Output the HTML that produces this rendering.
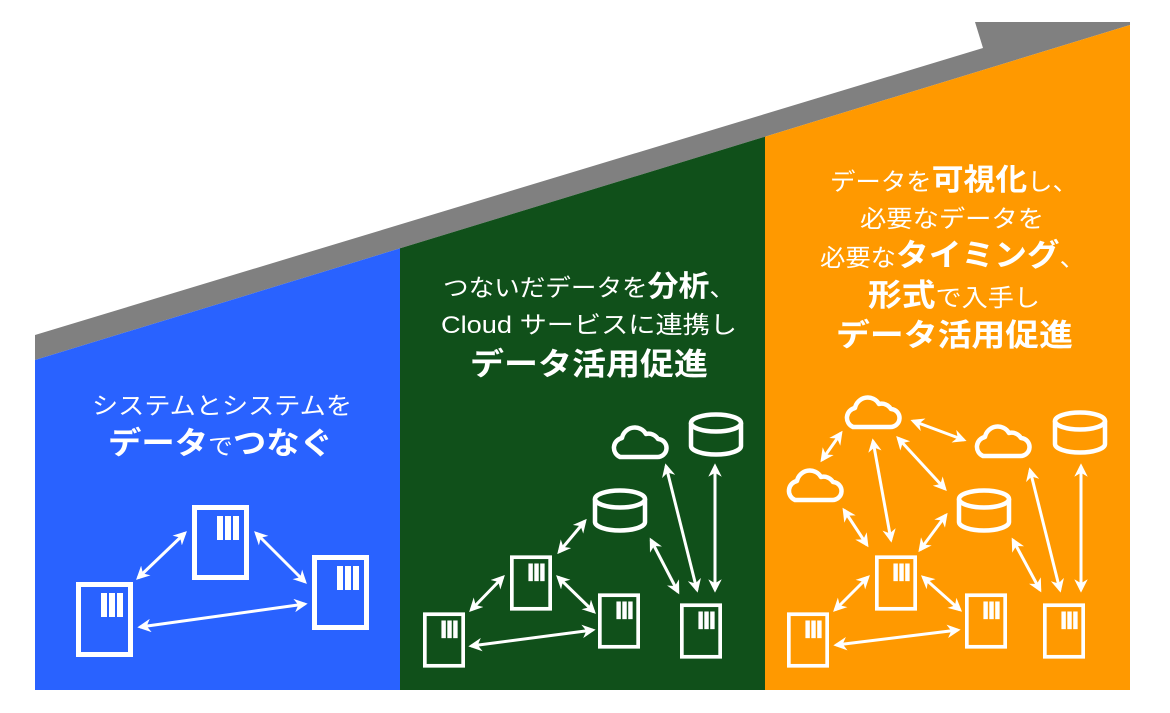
<!DOCTYPE html>
<html><head><meta charset="utf-8"><style>
html,body{margin:0;padding:0;background:#fff;}
svg{display:block}
text{font-family:"Liberation Sans","Noto Sans CJK JP",sans-serif;fill:#fff;}
</style></head><body>
<svg width="1170" height="713" viewBox="0 0 1170 713" xmlns="http://www.w3.org/2000/svg">
<defs>
<symbol id="srv" viewBox="0 0 57 75" overflow="visible">
<rect x="2.5" y="2.5" width="52" height="70" fill="none" stroke="#fff" stroke-width="5"/>
<rect x="25" y="11" width="6" height="24" fill="#fff"/>
<rect x="33" y="11" width="6" height="24" fill="#fff"/>
<rect x="41" y="11" width="6" height="24" fill="#fff"/>
</symbol>
<symbol id="db" viewBox="0 0 56 46" overflow="visible">
<g fill="none" stroke="#fff" stroke-width="4.5">
<ellipse cx="28" cy="11" rx="25" ry="8.5"/>
<path d="M3 11 V34 A25 8.5 0 0 0 53 34 V11"/>
</g>
</symbol>
<symbol id="cloud" viewBox="0 0 58 38" overflow="visible">
<path d="M10 35 H47 A9 9 0 0 0 48 17 A11 11 0 0 0 36 12 A13 13 0 0 0 12 16 A10 10 0 0 0 10 35 Z" fill="none" stroke="#fff" stroke-width="4.5" stroke-linejoin="round"/>
</symbol>
<marker id="ah" viewBox="0 0 10 10" refX="8" refY="5" markerWidth="4.5" markerHeight="4.5" orient="auto-start-reverse" markerUnits="strokeWidth">
<path d="M0 0 L10 5 L0 10 L3 5 Z" fill="#fff"/>
</marker>
</defs>

<polygon points="35,335 983,48 975,22 1130,22 1130,25 35,360" fill="#808080"/>
<clipPath id="cp"><polygon points="35,360 1130,25 1130,690 35,690"/></clipPath>
<g clip-path="url(#cp)">
<rect x="35" y="0" width="366" height="690" fill="#2962ff"/>
<rect x="400" y="0" width="366" height="690" fill="#10501a"/>
<rect x="765" y="0" width="365" height="690" fill="#ff9900"/>
</g>

<!-- Blue text -->
<text x="92" y="414" font-size="24" textLength="260" lengthAdjust="spacingAndGlyphs">システムとシステムを</text>
<text x="108" y="454" font-weight="bold" textLength="225" lengthAdjust="spacingAndGlyphs"><tspan font-size="31">データ</tspan><tspan font-size="23" font-weight="normal">で</tspan><tspan font-size="31">つなぐ</tspan></text>

<!-- Green text -->
<text x="443" y="296" font-size="24" textLength="292" lengthAdjust="spacingAndGlyphs">つないだデータを<tspan font-weight="bold" font-size="29">分析</tspan>、</text>
<text x="441" y="333" font-size="24" textLength="296" lengthAdjust="spacingAndGlyphs">Cloud サービスに連携し</text>
<text x="470" y="375" font-size="31" font-weight="bold" textLength="238" lengthAdjust="spacingAndGlyphs">データ活用促進</text>

<!-- Orange text -->
<text x="830" y="190" font-size="24" textLength="248" lengthAdjust="spacingAndGlyphs">データを<tspan font-weight="bold" font-size="30">可視化</tspan>し、</text>
<text x="860" y="227" font-size="24" textLength="184" lengthAdjust="spacingAndGlyphs">必要なデータを</text>
<text x="820" y="266" font-size="24" textLength="265" lengthAdjust="spacingAndGlyphs">必要な<tspan font-weight="bold" font-size="31">タイミング</tspan>、</text>
<text x="868" y="306" font-size="24" textLength="172" lengthAdjust="spacingAndGlyphs"><tspan font-weight="bold" font-size="31">形式</tspan>で入手し</text>
<text x="836" y="346" font-size="31" font-weight="bold" textLength="237" lengthAdjust="spacingAndGlyphs">データ活用促進</text>

<!-- Blue diagram -->
<use href="#srv" x="76" y="582" width="57" height="75"/>
<use href="#srv" x="192" y="505" width="57" height="75"/>
<use href="#srv" x="312" y="555" width="57" height="75"/>
<g stroke="#fff" stroke-width="3" marker-start="url(#ah)" marker-end="url(#ah)">
<line x1="138" y1="578" x2="185" y2="533"/>
<line x1="256" y1="533" x2="305" y2="582"/>
<line x1="140" y1="627" x2="305" y2="604"/>
</g>

<!-- Green diagram -->
<use href="#srv" x="423" y="612" width="42" height="56"/>
<use href="#srv" x="510" y="555" width="42" height="56"/>
<use href="#srv" x="598" y="593" width="42" height="56"/>
<use href="#srv" x="680" y="603" width="42" height="56"/>
<use href="#db" x="592" y="488" width="56" height="46"/>
<use href="#db" x="688" y="412" width="56" height="46"/>
<use href="#cloud" x="610" y="422" width="58" height="38"/>
<g stroke="#fff" stroke-width="3" marker-start="url(#ah)" marker-end="url(#ah)">
<line x1="471" y1="610" x2="503" y2="577"/>
<line x1="471" y1="646" x2="593" y2="630"/>
<line x1="558" y1="577" x2="594" y2="612"/>
<line x1="559" y1="552" x2="585" y2="521"/>
<line x1="651" y1="540" x2="678" y2="592"/>
<line x1="666" y1="466" x2="697" y2="590"/>
<line x1="715" y1="466" x2="715" y2="590"/>
</g>

<!-- Orange diagram -->
<use href="#srv" x="787" y="612" width="42" height="56"/>
<use href="#srv" x="875" y="555" width="42" height="56"/>
<use href="#srv" x="965" y="593" width="42" height="56"/>
<use href="#srv" x="1043" y="603" width="42" height="56"/>
<use href="#db" x="956" y="488" width="56" height="46"/>
<use href="#db" x="1052" y="410" width="56" height="46"/>
<use href="#cloud" x="843" y="392" width="58" height="38"/>
<use href="#cloud" x="973" y="421" width="58" height="38"/>
<use href="#cloud" x="785" y="465" width="58" height="38"/>
<g stroke="#fff" stroke-width="3" marker-start="url(#ah)" marker-end="url(#ah)">
<line x1="841" y1="433" x2="822" y2="460"/>
<line x1="913" y1="421" x2="964" y2="440"/>
<line x1="873" y1="441" x2="891" y2="540"/>
<line x1="898" y1="438" x2="945" y2="489"/>
<line x1="844" y1="510" x2="867" y2="545"/>
<line x1="946" y1="515" x2="920" y2="550"/>
<line x1="868" y1="577" x2="835" y2="610"/>
<line x1="923" y1="577" x2="960" y2="610"/>
<line x1="836" y1="645" x2="958" y2="630"/>
<line x1="1013" y1="540" x2="1040" y2="590"/>
<line x1="1030" y1="470" x2="1060" y2="590"/>
<line x1="1081" y1="466" x2="1081" y2="590"/>
</g>
</svg>
</body></html>
